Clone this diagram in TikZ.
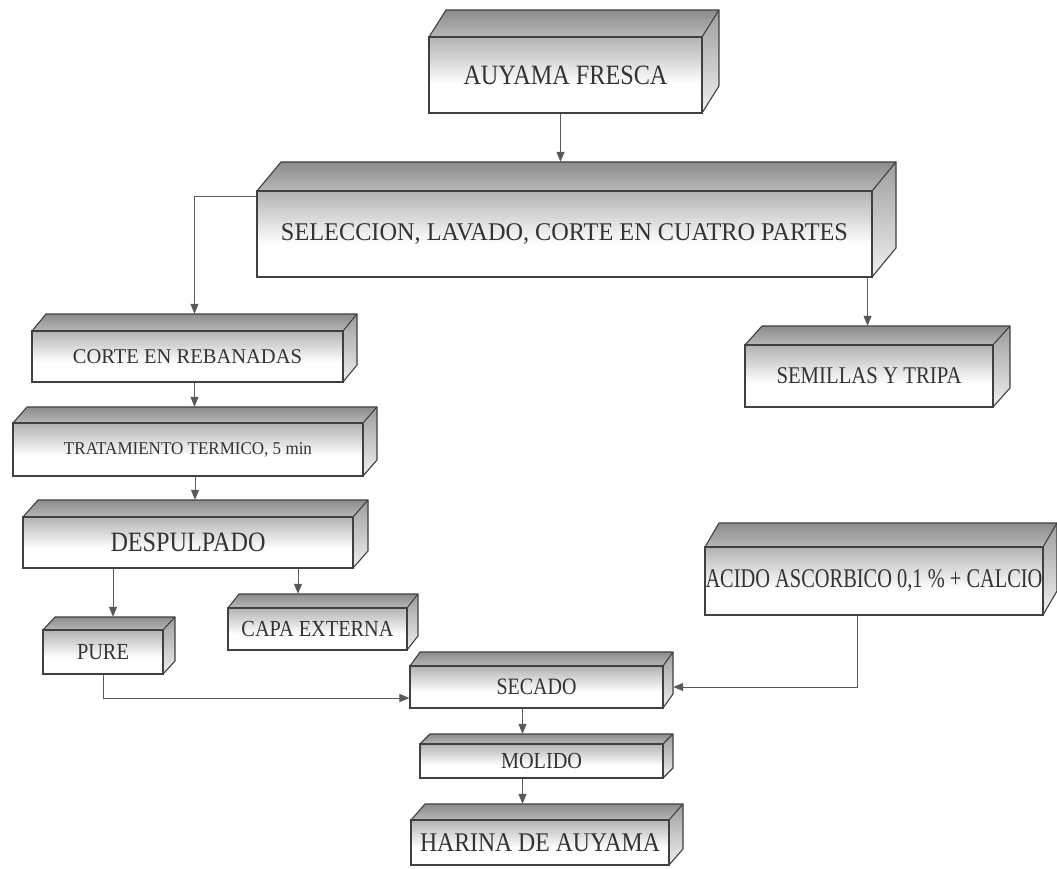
\documentclass[tikz,border=0pt]{standalone}
\usepackage{fontspec}
\setmainfont{Liberation Serif}
\usetikzlibrary{arrows.meta,fit}
\tikzset{
  topface/.style={top color=black!45, bottom color=black!28},
  sideface/.style={top color=black!38, bottom color=black!6},
  frontshade/.style={top color=black!30, bottom color=white},
  edge/.style={draw=black!75, line width=1.1pt, line join=round},
  frontface/.style={draw=black!75, line width=1.1pt, inner sep=0pt},
  label/.style={inner sep=0pt, text=black!80},
  fullbox/.style={inner sep=0pt},
  conn/.style={draw=black!65, line width=1pt, -{Triangle[length=10pt,width=8pt]}},
}
\newcommand\txt[3]{\fontsize{#1}{#1}\selectfont\resizebox{#2pt}{\height}{#3}}
\newcommand\cubebox[8]{%
  \shade[topface] (#2,#3) -- (#2+#6,#3-#7) -- (#4+#6,#3-#7) -- (#4,#3) -- cycle;
  \shade[sideface] (#4,#3) -- (#4+#6,#3-#7) -- (#4+#6,#5-#7) -- (#4,#5) -- cycle;
  \fill[white] (#2,#3) rectangle (#4,#5);
  \shade[frontshade] (#2,#3) rectangle (#4,{#3+0.62*(#5-#3)});
  \draw[edge] (#2,#3) -- (#2+#6,#3-#7) -- (#4+#6,#3-#7) -- (#4+#6,#5-#7) -- (#4,#5);
  \draw[edge] (#4,#3) -- (#4+#6,#3-#7);
  \node[frontface, fit={(#2,#3) (#4,#5)}] (#1) {};
  \node[label] (#1T) at (#1.center) {#8};
  \node[fullbox, fit={(#2,#5) (#4+#6,#3-#7)}] (#1A) {};
}
\begin{document}
\begin{tikzpicture}[x=1pt,y=-1pt]
\useasboundingbox (0,0) rectangle (1057,869);
\fill[white] (0,0) rectangle (1057,869);

\cubebox{auy}{429}{37}{702}{113}{17}{27}{\txt{28}{204}{AUYAMA FRESCA}}
\cubebox{sel}{257}{191}{872}{277}{24}{29}{\txt{25.5}{567}{SELECCION, LAVADO, CORTE EN CUATRO PARTES}}
\cubebox{cor}{32}{331}{343}{382}{14}{17}{\txt{21}{229}{CORTE EN REBANADAS}}
\cubebox{tra}{13}{423}{363}{476}{14}{16}{\txt{18}{248}{TRATAMIENTO TERMICO, 5 min}}
\cubebox{des}{23}{517}{353}{568}{15}{17}{\txt{28}{155}{DESPULPADO}}
\cubebox{pur}{43}{630}{163}{674}{12}{13}{\txt{23}{52}{PURE}}
\cubebox{cap}{228}{608}{407}{650}{11}{14}{\txt{23}{152}{CAPA EXTERNA}}
\cubebox{sec}{410}{666}{663}{708}{10}{14}{\txt{23.5}{80}{SECADO}}
\cubebox{mol}{420}{744}{663}{778}{10}{10}{\txt{23}{81}{MOLIDO}}
\cubebox{har}{411}{820}{669}{865}{14}{16}{\txt{27}{240}{HARINA DE AUYAMA}}
\cubebox{sem}{745}{345}{993}{407}{17}{19}{\txt{24}{185}{SEMILLAS Y TRIPA}}
\cubebox{aci}{705}{547}{1043}{615}{14}{24}{\txt{27}{337}{ACIDO ASCORBICO 0,1 \% + CALCIO}}

% connectors
\draw[conn] ([xshift=-5pt]auy.south) -- ([xshift=-5pt]auy.south |- selA.north);
\draw[conn] ([yshift=-6pt]sel.north west) -| (corA.north);
\draw[conn] ([xshift=-5pt]sel.south east) -- ([xshift=-5pt]sel.south east |- semA.north);
\draw[conn] (corA.south) -- (corA.south |- traA.north);
\draw[conn] (traA.south) -- (traA.south |- desA.north);
\draw[conn] ([xshift=4pt]purA.north |- des.south) -- ([xshift=4pt]purA.north);
\draw[conn] ([xshift=-25pt]capA.north |- des.south) -- ([xshift=-25pt]capA.north);
\draw[conn] (pur.south) |- ([yshift=-11pt]sec.west);
\draw[conn] ([xshift=-17pt]aci.south) |- (secA.east |- sec.east);
\draw[conn] ([xshift=-14pt]sec.south) -- ([xshift=-14pt]sec.south |- molA.north);
\draw[conn] ([xshift=-19pt]mol.south) -- ([xshift=-19pt]mol.south |- harA.north);
\end{tikzpicture}
\end{document}
